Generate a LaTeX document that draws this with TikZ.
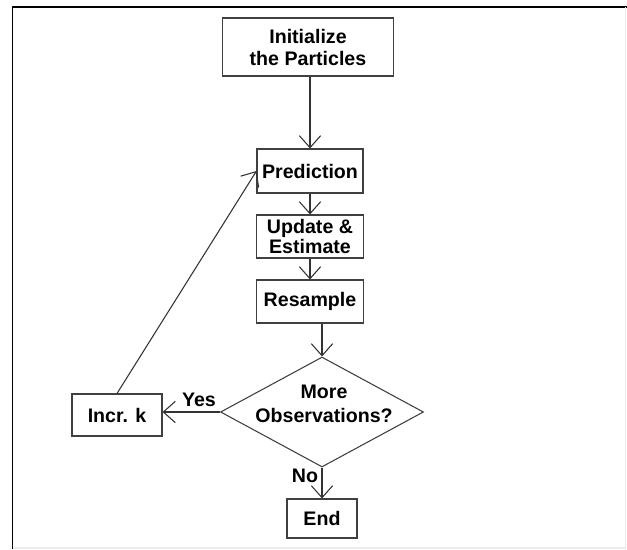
\documentclass[tikz,border=0pt]{standalone}
\usepackage{fontspec}
\setmainfont{Liberation Sans}
\usetikzlibrary{arrows.meta,shapes.geometric}
\begin{document}
\begin{tikzpicture}[x=0.75pt,y=-0.75pt,
  box/.style={draw=black!75, line width=0.8pt, fill=white, inner sep=0pt,
    align=center, font=\bfseries\fontsize{14.7}{16.5}\selectfont},
  lbl/.style={inner sep=0pt, font=\bfseries\fontsize{14.7}{16.5}\selectfont},
  arr/.style={draw=black!80, line width=0.8pt,
    -{Straight Barb[length=9pt,width=16pt,line width=0.8pt]}}]
\fill[white] (0,0) rectangle (627,549);
\useasboundingbox (0,0) rectangle (627,549);
% frame
\draw[black, line width=1.4pt] (12.5,549) -- (12.5,7) -- (627,7);
\draw[black!8, line width=0.8pt] (625.5,7) -- (625.5,548) -- (12.5,548);
% nodes
\node[box, minimum width=128.25pt, minimum height=43.5pt] (init) at (308,47)
  {Initialize\\the Particles};
\node[box, minimum width=79.5pt, minimum height=33pt] (pred) at (310,171) {Prediction};
\node[box, minimum width=80.25pt, minimum height=32.25pt,
  font=\bfseries\fontsize{14.7}{14.5}\selectfont] (upd) at (310,236.5) {Update \&\\Estimate};
\node[box, minimum width=80.25pt, minimum height=32.25pt] (res) at (310,301.5) {Resample};
\node[box, shape=diamond, minimum width=152.25pt, minimum height=82.5pt] (dia) at (322,412) {};
\node[lbl, align=center, font=\bfseries\fontsize{14.7}{18}\selectfont] (diatext) at (324,404)
  {More\\Observations?};
\node[box, minimum width=67.5pt, minimum height=31.5pt] (incr) at (117,415) {Incr. k};
\node[box, minimum width=52.5pt, minimum height=29.25pt] (end) at (322,518.5) {End};
\node[lbl] (yes) at (199,400) {Yes};
\node[lbl] (no) at (305,476) {No};
% connectors
\draw[arr] (init.south -| pred.north) -- (pred.north);
\draw[arr] (pred) -- (upd);
\draw[arr] (upd) -- (res);
\draw[arr] (res.south -| dia.north) -- (dia.north);
\draw[arr] (dia.west) -- (dia.west -| incr.east);
\draw[arr] (dia.south) -- (dia.south |- end.north);
\draw[arr] (incr.north) -- (pred.west);
\end{tikzpicture}
\end{document}
